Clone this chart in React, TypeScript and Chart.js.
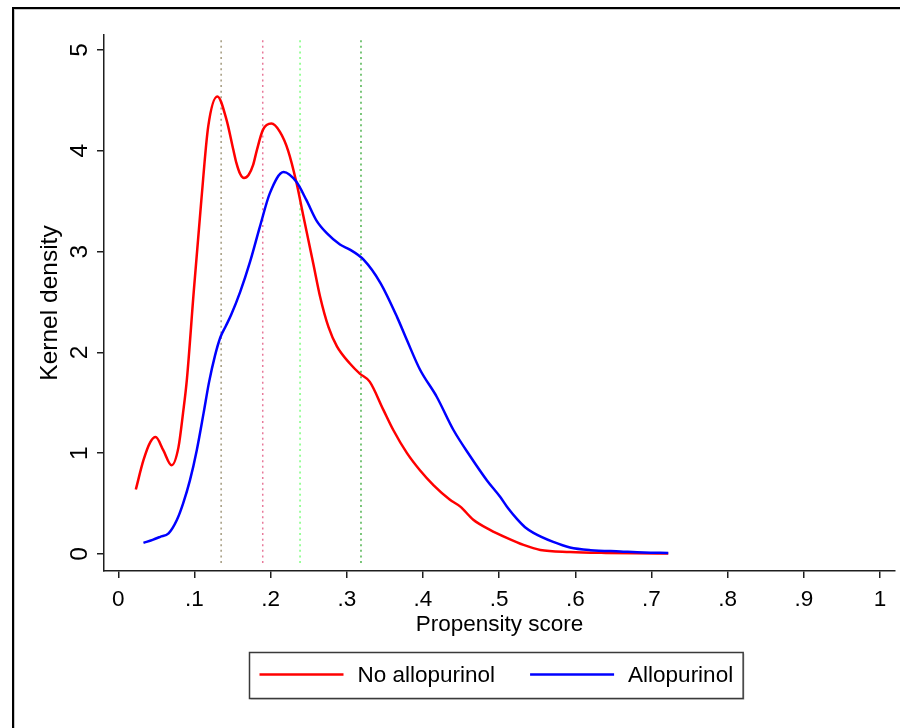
import React, { useEffect, useRef } from 'react';
import { Chart, registerables } from 'chart.js';

Chart.register(...registerables);

const seriesLabels = ['No allopurinol', 'Allopurinol'];
const seriesColors = ['#ff0000', '#0000ff'];

const noAlloX = [0.023, 0.033, 0.042, 0.049, 0.059, 0.070, 0.079, 0.085, 0.090, 0.099, 0.109, 0.118, 0.130, 0.142, 0.151, 0.155, 0.160, 0.165, 0.171, 0.177, 0.182, 0.190, 0.201, 0.212, 0.223, 0.234, 0.243, 0.256, 0.265, 0.276, 0.287, 0.304, 0.317, 0.330, 0.348, 0.361, 0.379, 0.396, 0.414, 0.435, 0.449, 0.466, 0.488, 0.510, 0.532, 0.554, 0.593, 0.640, 0.680, 0.722];
const noAlloY = [0.64, 0.93, 1.11, 1.16, 1.03, 0.88, 1.06, 1.40, 1.73, 2.60, 3.51, 4.24, 4.54, 4.31, 4.01, 3.88, 3.77, 3.73, 3.76, 3.86, 4.01, 4.21, 4.27, 4.19, 4.00, 3.68, 3.35, 2.88, 2.55, 2.25, 2.06, 1.89, 1.79, 1.71, 1.43, 1.23, 1.00, 0.83, 0.68, 0.54, 0.47, 0.34, 0.24, 0.16, 0.09, 0.04, 0.02, 0.01, 0.006, 0.005];

const alloX = [0.033, 0.045, 0.055, 0.066, 0.077, 0.085, 0.094, 0.103, 0.112, 0.119, 0.127, 0.134, 0.141, 0.148, 0.160, 0.173, 0.186, 0.199, 0.217, 0.234, 0.247, 0.260, 0.274, 0.291, 0.304, 0.322, 0.344, 0.366, 0.379, 0.396, 0.418, 0.440, 0.462, 0.484, 0.501, 0.512, 0.523, 0.534, 0.545, 0.571, 0.593, 0.620, 0.659, 0.690, 0.722];
const alloY = [0.11, 0.14, 0.17, 0.205, 0.34, 0.50, 0.73, 1.03, 1.40, 1.70, 1.97, 2.15, 2.26, 2.37, 2.60, 2.90, 3.25, 3.58, 3.79, 3.69, 3.51, 3.31, 3.18, 3.07, 3.02, 2.92, 2.69, 2.35, 2.12, 1.83, 1.56, 1.23, 0.97, 0.73, 0.57, 0.45, 0.35, 0.265, 0.21, 0.12, 0.065, 0.038, 0.025, 0.015, 0.01];

const refLineX = [0.135, 0.1896, 0.2386, 0.3186];
const refLineColors = ['#a39a7e', '#e8799a', '#7dff7d', '#4fb34f'];
const refLineYRange = [-0.09, 5.13];

const xTickValues = [0, 0.1, 0.2, 0.3, 0.4, 0.5, 0.6, 0.7, 0.8, 0.9, 1];
const xTickLabels = ['0', '.1', '.2', '.3', '.4', '.5', '.6', '.7', '.8', '.9', '1'];
const yTickValues = [0, 1, 2, 3, 4, 5];
const yTickLabels = ['0', '1', '2', '3', '4', '5'];

const FONT = '"Liberation Sans", Arial, Helvetica, sans-serif';
const hFont = { family: FONT, size: 22.5 };
const vFont = { family: FONT, size: 24.5 };

const framePlugin = {
  id: 'frame',
  beforeDraw(chart: any) {
    const { ctx, width, height } = chart;
    ctx.save();
    ctx.fillStyle = '#ffffff';
    ctx.fillRect(0, 0, width, height);
    ctx.fillStyle = '#c8c8c8';
    ctx.fillRect(14, 9, width - 14, 1);
    ctx.fillRect(14, 9, 1, height - 9);
    ctx.fillStyle = '#000000';
    ctx.fillRect(12, 7, width - 12, 2);
    ctx.fillRect(12, 7, 2, height - 7);
    ctx.restore();
  },
};

const legendPlugin = {
  id: 'boxLegend',
  afterDraw(chart: any) {
    const ctx = chart.ctx;
    const items = chart.data.datasets.slice(0, 2).map((ds: any) => ({ label: ds.label, color: ds.borderColor }));
    ctx.save();
    ctx.font = `${hFont.size}px ${FONT}`;
    const pad = 10;
    const lineLen = 84;
    const gap = 14;
    const itemGap = 35;
    const widths = items.map((it: any) => ctx.measureText(it.label).width);
    const total = pad * 2 + items.length * (lineLen + gap) + widths.reduce((a: number, b: number) => a + b, 0) + itemGap * (items.length - 1);
    const cx = (chart.chartArea.left + chart.chartArea.right) / 2 - 4;
    const x0 = Math.round(cx - total / 2) + 0.5;
    const y0 = 652.5;
    const h = 46;
    ctx.fillStyle = '#d8d8d8';
    ctx.fillRect(x0 + 1, y0 + h, total, 1.5);
    ctx.fillRect(x0 + total, y0 + 1, 1.5, h);
    ctx.fillStyle = '#ffffff';
    ctx.fillRect(x0, y0, total, h);
    ctx.strokeStyle = '#3a3a3a';
    ctx.lineWidth = 1.5;
    ctx.strokeRect(x0, y0, total, h);
    let x = x0 + pad;
    const yMid = y0 + h / 2;
    items.forEach((it: any, i: number) => {
      ctx.strokeStyle = it.color;
      ctx.lineWidth = 2.5;
      ctx.beginPath();
      ctx.moveTo(x, yMid - 1);
      ctx.lineTo(x + lineLen, yMid - 1);
      ctx.stroke();
      x += lineLen + gap;
      ctx.fillStyle = '#000000';
      ctx.textBaseline = 'middle';
      ctx.textAlign = 'left';
      ctx.fillText(it.label, x, yMid);
      x += widths[i] + itemGap;
    });
    ctx.restore();
  },
};

export default function App() {
  const canvasRef = useRef<HTMLCanvasElement>(null);

  useEffect(() => {
    const canvas = canvasRef.current;
    if (!canvas) return;

    const curveSets = [
      { xs: noAlloX, ys: noAlloY },
      { xs: alloX, ys: alloY },
    ].map((s, i) => ({
      label: seriesLabels[i],
      data: s.xs.map((x, j) => ({ x, y: s.ys[j] })),
      borderColor: seriesColors[i],
      backgroundColor: seriesColors[i],
      borderWidth: 2.5,
      pointRadius: 0,
      showLine: true,
      tension: 0.4,
      cubicInterpolationMode: 'monotone' as const,
      fill: false,
      order: i === 0 ? 1 : 0,
    }));

    const refSets = refLineX.map((x, i) => ({
      label: 'ref' + i,
      data: refLineYRange.map((y) => ({ x, y })),
      borderColor: refLineColors[i],
      backgroundColor: refLineColors[i],
      borderWidth: 1.5,
      borderDash: [2, 3.6],
      pointRadius: 0,
      showLine: true,
      fill: false,
      order: 2,
    }));

    const chart = new Chart(canvas, {
      type: 'scatter',
      data: { datasets: [...curveSets, ...refSets] as any },
      options: {
        animation: false,
        responsive: false,
        devicePixelRatio: 1,
        layout: { padding: { left: 35.2, top: 35, right: 5, bottom: 90 } },
        plugins: { legend: { display: false }, tooltip: { enabled: false } },
        scales: {
          x: {
            type: 'linear',
            position: 'bottom',
            min: -0.0188,
            max: 1.0197,
            afterBuildTicks: (s: any) => {
              s.ticks = xTickValues.map((value) => ({ value }));
            },
            afterFit: (s: any) => {
              s.height = 67;
            },
            border: { display: true, color: '#1e1e1e', width: 1.5 },
            grid: { display: true, drawOnChartArea: false, drawTicks: true, tickLength: 7, color: '#1e1e1e', lineWidth: 1.5 },
            ticks: {
              autoSkip: false,
              maxRotation: 0,
              minRotation: 0,
              padding: 8,
              color: '#000000',
              font: hFont,
              callback: (_v: any, i: number) => xTickLabels[i],
            },
            title: { display: true, text: 'Propensity score', color: '#000000', font: hFont, padding: 0 },
          },
          y: {
            type: 'linear',
            position: 'left',
            min: -0.169,
            max: 5.149,
            afterBuildTicks: (s: any) => {
              s.ticks = yTickValues.map((value) => ({ value }));
            },
            afterFit: (s: any) => {
              s.width = 68.8;
            },
            border: { display: true, color: '#1e1e1e', width: 1.5 },
            grid: { display: true, drawOnChartArea: false, drawTicks: true, tickLength: 7, color: '#1e1e1e', lineWidth: 1.5 },
            ticks: {
              autoSkip: false,
              minRotation: 90,
              maxRotation: 90,
              crossAlign: 'center',
              padding: 10,
              color: '#000000',
              font: vFont,
              callback: (_v: any, i: number) => yTickLabels[i],
            },
            title: { display: true, text: 'Kernel density', color: '#000000', font: vFont, padding: 0 },
          },
        },
      } as any,
      plugins: [framePlugin, legendPlugin],
    });

    return () => chart.destroy();
  }, []);

  return (
    <div style={{ position: 'absolute', left: 0, top: 0, width: 900, height: 728, background: '#ffffff' }}>
      <canvas ref={canvasRef} width={900} height={728} style={{ display: 'block', width: 900, height: 728 }} />
    </div>
  );
}
